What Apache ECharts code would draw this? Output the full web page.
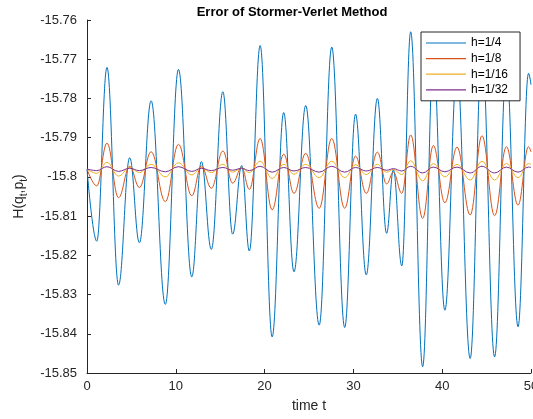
<!DOCTYPE html>
<html>
<head>
<meta charset="utf-8">
<script src="https://cdn.jsdelivr.net/npm/echarts@6/dist/echarts.min.js"></script>
<style>
html,body{margin:0;padding:0;background:#fff;}
#chart{width:533px;height:419px;}
</style>
</head>
<body>
<div id="chart"></div>
<script>
// Extremum times
const times = [0, 1.1, 2.25, 3.55, 4.81, 5.9, 7.22, 8.82, 10.3, 11.8, 12.88, 14.0, 15.3, 16.4, 17.42, 18.28, 19.5, 20.85, 22.15, 23.31, 24.63, 26.15, 27.56, 29.02, 30.24, 31.45, 32.7, 33.74, 34.5, 35.45, 36.45, 37.8, 39.0, 40.3, 41.67, 43.15, 44.48, 45.9, 47.23, 48.54, 49.72, 50];
const h4 = [-15.7980, -15.8164, -15.7721, -15.8276, -15.7951, -15.8168, -15.7806, -15.8325, -15.7726, -15.8255, -15.7961, -15.8185, -15.7783, -15.8146, -15.7971, -15.8189, -15.7665, -15.8408, -15.7836, -15.8242, -15.7818, -15.8378, -15.7669, -15.8384, -15.7840, -15.8250, -15.7800, -15.8144, -15.7982, -15.8227, -15.7630, -15.8484, -15.7700, -15.8340, -15.7730, -15.8463, -15.7680, -15.8459, -15.7720, -15.8382, -15.7736, -15.7765];
const h8 = [-15.7980, -15.8023, -15.7914, -15.8053, -15.7973, -15.8027, -15.7936, -15.8063, -15.7917, -15.8048, -15.7972, -15.8029, -15.7934, -15.8016, -15.7976, -15.8032, -15.7902, -15.8084, -15.7942, -15.8042, -15.7940, -15.8080, -15.7902, -15.8080, -15.7947, -15.8042, -15.7937, -15.8018, -15.7988, -15.8042, -15.7893, -15.8106, -15.7920, -15.8066, -15.7924, -15.8097, -15.7895, -15.8099, -15.7923, -15.8072, -15.7923, -15.7936];
const h16 = [-15.7980, -15.7991, -15.7963, -15.7998, -15.7976, -15.7989, -15.7968, -15.8000, -15.7964, -15.7995, -15.7977, -15.7989, -15.7968, -15.7988, -15.7977, -15.7989, -15.7960, -15.8004, -15.7968, -15.7993, -15.7968, -15.8002, -15.7960, -15.8002, -15.7969, -15.7994, -15.7968, -15.7988, -15.7981, -15.7994, -15.7959, -15.8010, -15.7966, -15.8000, -15.7968, -15.8008, -15.7960, -15.8008, -15.7966, -15.8002, -15.7966, -15.7968];
const h32 = [-15.7980, -15.7984, -15.7974, -15.7986, -15.7978, -15.7984, -15.7976, -15.7987, -15.7974, -15.7986, -15.7978, -15.7984, -15.7976, -15.7983, -15.7978, -15.7984, -15.7973, -15.7988, -15.7976, -15.7985, -15.7976, -15.7988, -15.7973, -15.7988, -15.7976, -15.7985, -15.7976, -15.7983, -15.7979, -15.7985, -15.7973, -15.7990, -15.7975, -15.7987, -15.7975, -15.7990, -15.7973, -15.7990, -15.7975, -15.7988, -15.7975, -15.7976];
const seriesNames = ['h=1/4', 'h=1/8', 'h=1/16', 'h=1/32'];
const seriesValues = [h4, h8, h16, h32];
const colors = ['#0072BD', '#D95319', '#EDB120', '#7E2F8E'];
const xTicks = {min: 0, max: 50, interval: 10};
const yTicks = {min: -15.85, max: -15.76, interval: 0.01};

const chart = echarts.init(document.getElementById('chart'), null, {renderer: 'canvas'});
const font = 'Liberation Sans, Arial, Helvetica, sans-serif';
const axisColor = '#262626';

chart.setOption({
  animation: false,
  backgroundColor: '#ffffff',
  textStyle: {fontFamily: font},
  title: {
    text: 'Error of Stormer-Verlet Method',
    left: 287, top: 1, textAlign: 'center',
    textStyle: {fontFamily: font, fontSize: 13, fontWeight: 'bold', color: '#000'}
  },
  grid: {left: 87, right: 2, top: 20, bottom: 46, containLabel: false, outerBoundsMode: 'none'},
  legend: {
    orient: 'vertical',
    left: 421, top: 32,
    z: 50,
    padding: [4, 12, 4, 5],
    icon: 'rect',
    itemWidth: 40, itemHeight: 1.2, itemGap: 1.6,
    backgroundColor: '#ffffff',
    borderColor: '#262626', borderWidth: 1, borderRadius: 0,
    textStyle: {fontFamily: font, fontSize: 12, color: '#000', lineHeight: 14},
    data: seriesNames
  },
  xAxis: {
    type: 'value', min: xTicks.min, max: xTicks.max, interval: xTicks.interval,
    name: 'time t', nameLocation: 'middle', nameGap: 26,
    nameTextStyle: {fontFamily: font, fontSize: 14, color: axisColor},
    axisLine: {show: true, onZero: false, lineStyle: {color: axisColor, width: 1}},
    axisTick: {show: true, inside: true, length: 4, lineStyle: {color: axisColor}},
    axisLabel: {fontFamily: font, fontSize: 13, color: axisColor, margin: 7},
    splitLine: {show: false}
  },
  yAxis: {
    type: 'value', min: yTicks.min, max: yTicks.max, interval: yTicks.interval,
    name: 'H(q{s|t},p{s|t})', nameLocation: 'middle', nameGap: 56, nameRotate: 90,
    nameTextStyle: {
      fontFamily: font, fontSize: 14, color: axisColor, lineHeight: 20,
      rich: {s: {fontFamily: font, fontSize: 10, color: axisColor, lineHeight: 10, verticalAlign: 'bottom'}}
    },
    axisLine: {show: true, onZero: false, lineStyle: {color: axisColor, width: 1}},
    axisTick: {show: true, inside: true, length: 4, lineStyle: {color: axisColor}},
    axisLabel: {fontFamily: font, fontSize: 13, color: axisColor, margin: 10,
      formatter: v => String(Number(v.toFixed(2)))},
    splitLine: {show: false}
  },
  series: seriesNames.map((name, i) => ({
    name: name,
    type: 'line',
    data: times.map((t, k) => [t, seriesValues[i][k]]),
    smooth: 0.4,
    smoothMonotone: 'x',
    symbol: 'none',
    showSymbol: false,
    clip: true,
    lineStyle: {color: colors[i], width: 1},
    itemStyle: {color: colors[i]},
    z: 2 + i
  }))
});
</script>
</body>
</html>
